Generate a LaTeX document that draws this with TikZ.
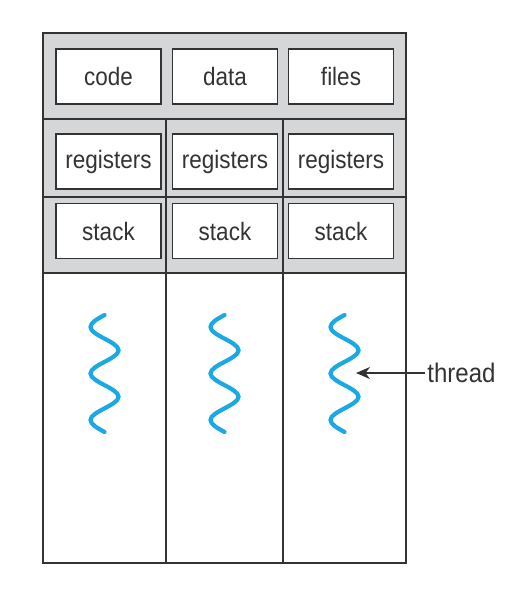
\documentclass[tikz,border=0pt]{standalone}
\usepackage{fontspec}
\setmainfont{Liberation Sans}
\usetikzlibrary{arrows.meta, positioning}
\definecolor{panelgray}{HTML}{D4D6D7}
\definecolor{threadblue}{HTML}{1BA8E3}
\definecolor{edgegray}{HTML}{333333}
\newcommand{\tallword}[1]{\scalebox{1}[1.12]{#1}}

\begin{document}
\begin{tikzpicture}[x=1pt, y=-1pt, thick,
    cellbox/.style={draw=edgegray, line width=1.4pt, fill=white, text=edgegray,
      minimum width=105pt, minimum height=55pt, inner sep=0pt,
      font=\fontsize{22.5}{27}\selectfont},
    frameline/.style={draw=edgegray, line width=1.8pt},
    threadline/.style={draw=threadblue, line width=4.2pt, line cap=round}]
  \useasboundingbox (0,0) rectangle (510,590);

  % shared part of the process (gray)
  \fill[panelgray] (43,33) rectangle (406,273);

  % code, data, files
  \node[cellbox] (code)  at (108.5,76.5) {\tallword{code}};
  \node[cellbox] (data)  at (225,76.5)   {\tallword{data}};
  \node[cellbox] (files) at (341,76.5)   {\tallword{files}};

  % per thread registers and stack
  \foreach \i/\cx in {1/108.5, 2/225, 3/341} {
    \node[cellbox] (reg\i)   at (\cx,161.5) {\tallword{registers}};
    \node[cellbox] (stack\i) at (\cx,231)   {\tallword{stack}};
  }

  % grid lines
  \draw[frameline] (43,119) -- (406,119);
  \draw[frameline] (43,197) -- (406,197);
  \draw[frameline] (43,273) -- (406,273);
  \draw[frameline] (166,119) -- (166,563);
  \draw[frameline] (283,119) -- (283,563);

  % outer frame
  \draw[frameline] (43,33) rectangle (406,563);

  % threads
  \foreach \cx in {104.5, 224.5, 344.5} {
    \draw[threadline] (\cx,315)
      .. controls ({\cx-7.3},319) and ({\cx-14},322.7) .. ({\cx-14},327)
      .. controls ({\cx-14},335.46) and ({\cx+14},341.79) .. ({\cx+14},350.25)
      .. controls ({\cx+14},358.71) and ({\cx-14},365.04) .. ({\cx-14},373.5)
      .. controls ({\cx-14},381.96) and ({\cx+14},388.29) .. ({\cx+14},396.75)
      .. controls ({\cx+14},405.21) and ({\cx-14},411.54) .. ({\cx-14},420)
      .. controls ({\cx-14},424.3) and ({\cx-7.3},428) .. (\cx,432);
  }

  % label
  \node[anchor=west, inner sep=2pt, text=edgegray, font=\fontsize{24}{28}\selectfont]
    (threadlabel) at (425,373) {\tallword{thread}};
  \coordinate (threadtip) at (356,373);
  \draw[-{Stealth[length=14pt, width=12pt]}, line width=1.9pt, edgegray]
    (threadlabel.west) -- (threadtip);
\end{tikzpicture}
\end{document}
